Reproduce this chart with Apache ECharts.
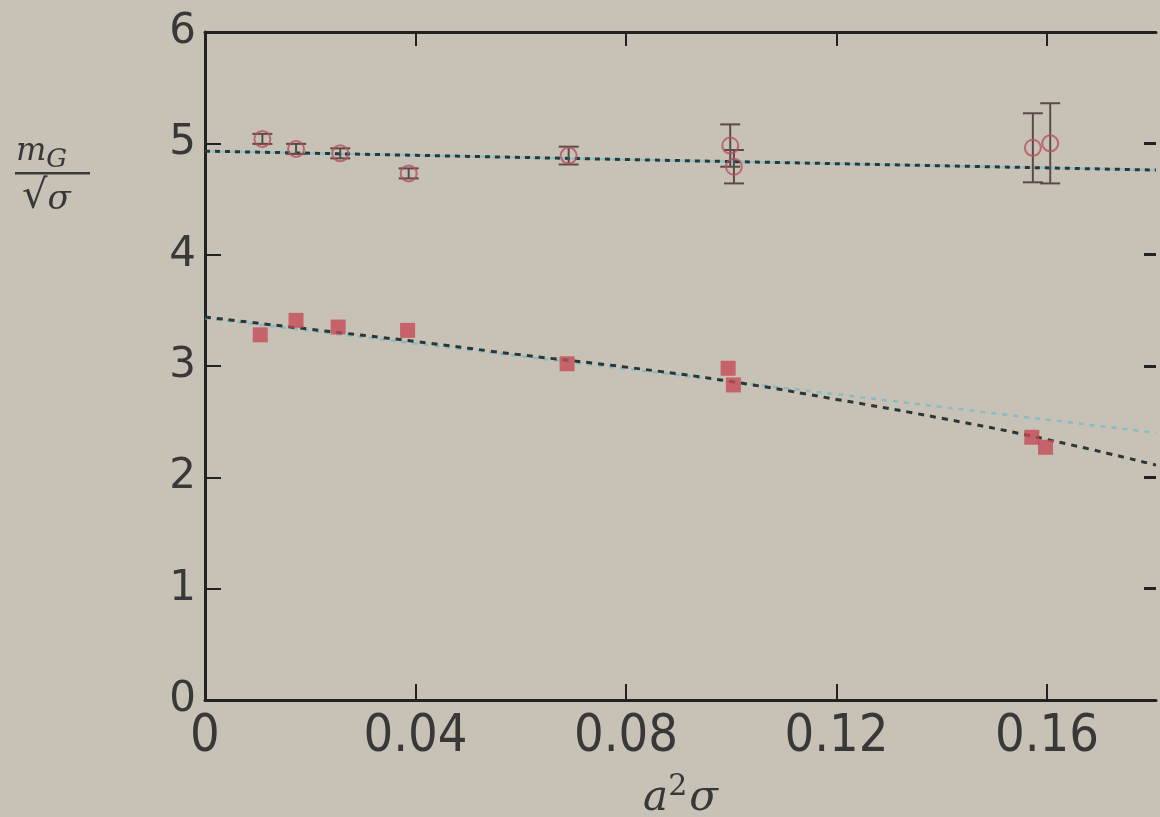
<!DOCTYPE html>
<html>
<head>
<meta charset="utf-8">
<script src="https://cdn.jsdelivr.net/npm/echarts@6/dist/echarts.min.js"></script>
<style>
html,body{margin:0;padding:0;background:#c8c2b6;}
#chart{width:1160px;height:817px;}
</style>
</head>
<body>
<div id="chart"></div>
<script>
// ---- data ----
const xTicks = [0, 0.04, 0.08, 0.12, 0.16];
const yTicks = [0, 1, 2, 3, 4, 5, 6];

const circleX   = [0.0109, 0.0173, 0.0257, 0.0387, 0.0691, 0.0998, 0.1005, 0.1573, 0.1606];
const circleY   = [5.04, 4.95, 4.91, 4.73, 4.89, 4.98, 4.79, 4.96, 5.00];
const circleErr = [0.045, 0.045, 0.045, 0.045, 0.08, 0.19, 0.15, 0.31, 0.36];

const squareX = [0.0105, 0.0173, 0.0253, 0.0385, 0.0688, 0.0994, 0.1004, 0.1571, 0.1597];
const squareY = [3.28, 3.41, 3.35, 3.32, 3.02, 2.98, 2.83, 2.36, 2.27];

const upperFitX = [0, 0.1807];
const upperFitY = [4.93, 4.76];
const lowerLinX = [0, 0.1807];
const lowerLinY = [3.43, 2.40];
const lowerQuadX = [0, 0.02, 0.04, 0.06, 0.08, 0.10, 0.12, 0.14, 0.16, 0.1807];
const lowerQuadY = [3.44, 3.33, 3.22, 3.10, 2.99, 2.86, 2.70, 2.53, 2.34, 2.11];

const zip = (a, b) => a.map((v, i) => [v, b[i]]);

const chart = echarts.init(document.getElementById('chart'));
const axisCol = '#222222';
const labelCol = '#383838';
const xMax = 0.1807;

const errData = circleX.map((x, i) => [x, circleY[i] - circleErr[i], circleY[i] + circleErr[i]]);

chart.setOption({
  backgroundColor: '#c8c2b6',
  animation: false,
  grid: {left: 205, right: 4, top: 32, bottom: 117, containLabel: false, outerBoundsMode: 'none'},
  xAxis: [{
    type: 'value', min: 0, max: xMax, position: 'bottom',
    axisLine: {show: true, onZero: false, lineStyle: {color: axisCol, width: 3}},
    axisTick: {show: true, inside: true, length: 16, lineStyle: {color: axisCol, width: 2}, customValues: xTicks.slice(1)},
    axisLabel: {color: labelCol, fontSize: 52, fontFamily: "'DejaVu Sans Condensed', 'Liberation Sans Narrow', 'DejaVu Sans'", margin: 11,
      customValues: xTicks, formatter: v => v === 0 ? '0' : v.toFixed(2)},
    splitLine: {show: false},
    name: '{i|a}{s|2}{i|σ}', nameLocation: 'middle', nameGap: 72,
    nameTextStyle: {rich: {
      i: {fontFamily: 'DejaVu Serif', fontStyle: 'italic', fontSize: 42, color: labelCol, verticalAlign: 'bottom'},
      s: {fontFamily: 'DejaVu Serif', fontSize: 30, color: labelCol, verticalAlign: 'top', padding: [0, 2, 18, 0]}
    }}
  }, {
    type: 'value', min: 0, max: xMax, position: 'top',
    axisLine: {show: true, onZero: false, lineStyle: {color: axisCol, width: 3}},
    axisTick: {show: true, inside: true, length: 14, lineStyle: {color: axisCol, width: 2}, customValues: xTicks.slice(1)},
    axisLabel: {show: false}, splitLine: {show: false}
  }],
  yAxis: [{
    type: 'value', min: 0, max: 6, interval: 1, position: 'left',
    axisLine: {show: true, onZero: false, lineStyle: {color: axisCol, width: 3}},
    axisTick: {show: true, inside: true, length: 16, lineStyle: {color: axisCol, width: 2}},
    axisLabel: {color: labelCol, fontSize: 42, fontFamily: 'DejaVu Sans', margin: 9},
    splitLine: {show: false}
  }, {
    type: 'value', min: 0, max: 6, interval: 1, position: 'right',
    axisLine: {show: true, onZero: false, lineStyle: {color: 'rgba(0,0,0,0)', width: 1}},
    axisTick: {show: true, inside: true, length: 12, lineStyle: {color: axisCol, width: 3}},
    axisLabel: {show: false}, splitLine: {show: false}
  }],
  graphic: [
    {type: 'text', left: 16, top: 136, style: {
      text: '{m|m}{g|G}', rich: {
        m: {fontFamily: 'DejaVu Serif', fontStyle: 'italic', fontSize: 32, fill: labelCol},
        g: {fontFamily: 'DejaVu Serif', fontStyle: 'italic', fontSize: 26, fill: labelCol, padding: [16, 0, 0, 0]}
      }}},
    {type: 'rect', shape: {x: 15, y: 172, width: 75, height: 2.5}, style: {fill: labelCol}},
    {type: 'text', left: 22, top: 178, style: {
      text: '{r|√}{s|σ}', rich: {
        r: {fontFamily: 'DejaVu Sans', fontSize: 40, fill: labelCol},
        s: {fontFamily: 'DejaVu Serif', fontStyle: 'italic', fontSize: 34, fill: labelCol, padding: [4, 0, 0, 0]}
      }}}
  ],
  series: [
    {type: 'line', data: zip(upperFitX, upperFitY), symbol: 'none', z: 1, xAxisIndex: 1, yAxisIndex: 1,
      lineStyle: {color: '#8cc3c9', width: 2.5, type: [5, 5], dashOffset: 5}},
    {type: 'line', data: zip(upperFitX, upperFitY), symbol: 'none', z: 2,
      lineStyle: {color: '#2b3636', width: 3, type: [5, 5]}},
    {type: 'line', data: zip(lowerLinX, lowerLinY), symbol: 'none', z: 1,
      lineStyle: {color: '#86bcc4', width: 2.5, type: [5, 6]}},
    {type: 'line', data: zip(lowerQuadX, lowerQuadY), symbol: 'none', smooth: true, z: 2,
      lineStyle: {color: '#2b3636', width: 3, type: [6, 6]}},
    {type: 'custom', z: 3, data: errData,
      renderItem: (params, api) => {
        const x = api.value(0);
        const p1 = api.coord([x, api.value(2)]);
        const p2 = api.coord([x, api.value(1)]);
        const w = 10;
        const st = {stroke: '#5a4b48', lineWidth: 2};
        return {type: 'group', children: [
          {type: 'line', shape: {x1: p1[0], y1: p1[1], x2: p2[0], y2: p2[1]}, style: st},
          {type: 'line', shape: {x1: p1[0] - w, y1: p1[1], x2: p1[0] + w, y2: p1[1]}, style: st},
          {type: 'line', shape: {x1: p2[0] - w, y1: p2[1], x2: p2[0] + w, y2: p2[1]}, style: st}
        ]};
      }},
    {type: 'scatter', data: zip(circleX, circleY), symbol: 'circle', symbolSize: 16, z: 4,
      itemStyle: {color: 'rgba(0,0,0,0)', borderColor: '#b8505c', borderWidth: 2}},
    {type: 'scatter', data: zip(squareX, squareY), symbol: 'rect', symbolSize: 15, z: 4,
      itemStyle: {color: '#c64a56'}}
  ]
});
</script>
</body>
</html>
